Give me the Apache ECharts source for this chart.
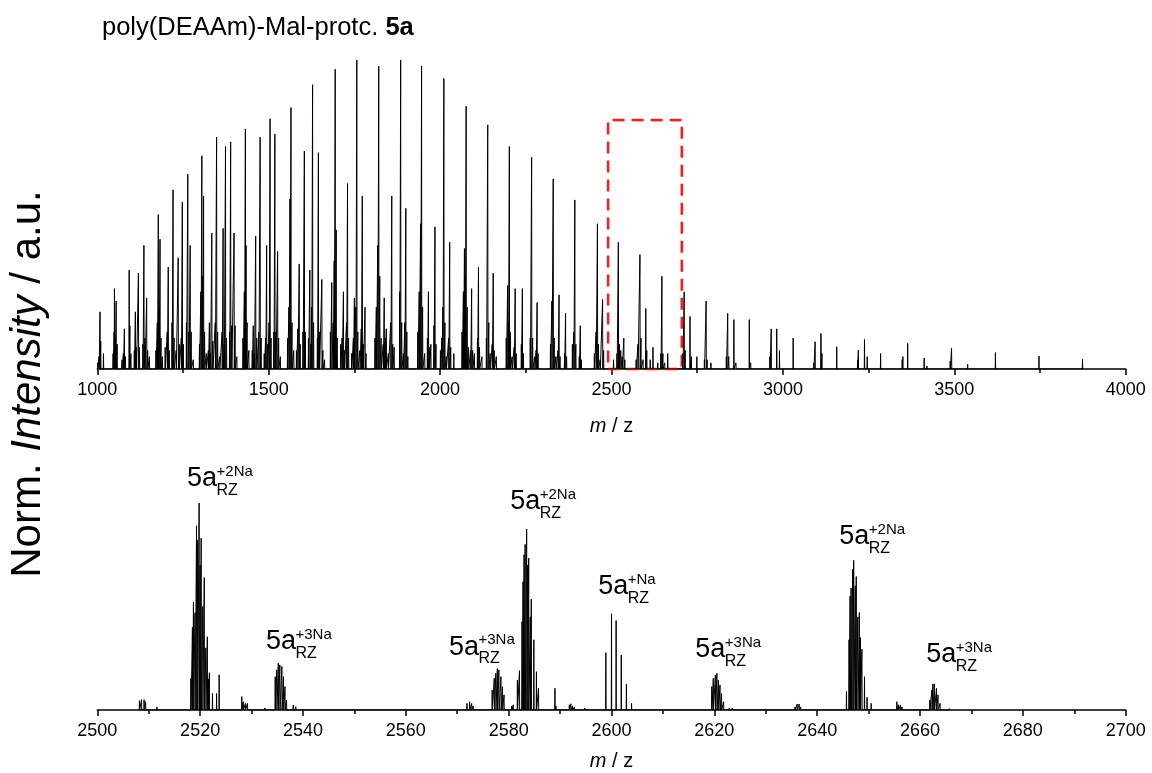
<!DOCTYPE html>
<html><head><meta charset="utf-8">
<script src="https://cdn.jsdelivr.net/npm/echarts@6/dist/echarts.min.js"></script>
<style>html,body{margin:0;padding:0;background:#fff}#c{width:1152px;height:773px}</style>
</head><body><div id="c"></div><script>
// ---- overview spectrum (m/z 1000-4000): peak positions and normalised intensities
const topMz = [
1001,1005,1008,1010,1018,1046,1049,1050,1052,1055,1058,
1072,1076,1079,1082,1093,1095,1098,1108,1111,1114,1120,1123,1133,1136,1139,1144,1147,1152,
1171,1175,1178,1180,1183,1186,1190,1198,1204,1207,1210,1218,1221,1224,1230,1236,1239,1245,1248,1251,1260,1264,1267,1271,1274,1280,
1298,1302,1305,1307,1310,1313,1318,1324,1327,1330,1334,1337,1344,1348,1351,1357,1364,1367,1370,1374,1377,1386,1389,1392,1399,1402,1407,
1425,1429,1432,1434,1437,1442,1452,1455,1458,1462,1465,1471,1475,1478,1487,1491,1494,1497,1501,1504,1507,1515,1518,1521,1526,1529,1534,
1555,1559,1562,1565,1568,1573,1581,1585,1589,1592,1600,1604,1607,1616,1620,1623,1625,1628,1631,1642,1645,1648,1655,1658,1663,
1680,1684,1688,1691,1694,1697,1700,1710,1714,1718,1721,1727,1730,1733,1742,1747,1750,1754,1757,1760,1766,1770,1773,1776,1781,1784,
1810,1814,1818,1821,1824,1828,1834,1837,1840,1843,1849,1856,1859,1862,1866,1882,1885,1888,1893,1897,1900,1903,1906,
1935,1939,1943,1946,1949,1955,1963,1966,1969,1973,1982,1985,1988,
2001,2005,2008,2011,2014,2018,2025,2028,2031,2040,
2064,2068,2071,2073,2076,2079,2083,2089,2092,2095,2100,2109,2112,2115,2122,
2135,2139,2142,2146,2152,2155,2158,2164,
2193,2197,2199,2202,2205,2210,2216,2219,2222,2237,2240,2243,
2263,2267,2270,2276,2280,2283,2286,
2322,2326,2330,2333,2338,2344,2347,2350,2363,2366,2369,
2386,2390,2393,2396,2406,2409,2412,
2450,2455,2459,2462,2467,2474,2477,
2506,2516,2520,2523,2527,2531,2536,2539,
2572,2577,2583,2586,2592,2600,2603,2613,2621,2635,2644,2647,2650,2655,2664,
2708,2712,2715,2729,2733,2749,2771,2776,2779,2790,
2835,2839,2842,2857,2863,2902,2906,2962,2966,2982,2990,3030,
3090,3094,3111,3114,3157,3218,3220,3238,3246,3285,3348,3350,3364,3412,3420,3488,3492,3539,3620,3700,3747,3874
];
const topInt = [
0.02,0.04,0.185,0.09,0.05,0.05,0.12,0.26,0.10,0.22,0.08,
0.03,0.05,0.13,0.04,0.32,0.14,0.05,0.06,0.185,0.07,0.31,0.07,0.08,0.40,0.10,0.23,0.06,0.04,
0.06,0.15,0.50,0.20,0.42,0.10,0.04,0.07,0.12,0.33,0.06,0.15,0.58,0.10,0.06,0.36,0.08,0.10,0.54,0.08,0.15,0.63,0.12,0.40,0.12,0.03,
0.08,0.25,0.69,0.30,0.56,0.12,0.05,0.06,0.15,0.05,0.44,0.09,0.15,0.75,0.12,0.04,0.12,0.455,0.08,0.72,0.10,0.12,0.735,0.14,0.44,0.14,0.04,
0.10,0.25,0.777,0.40,0.15,0.06,0.06,0.14,0.05,0.43,0.10,0.12,0.75,0.10,0.05,0.10,0.40,0.08,0.15,0.81,0.10,0.12,0.76,0.12,0.38,0.10,0.04,
0.10,0.20,0.55,0.846,0.15,0.06,0.06,0.13,0.34,0.08,0.12,0.705,0.12,0.10,0.32,0.08,0.20,0.92,0.15,0.10,0.70,0.12,0.29,0.06,0.03,
0.12,0.28,0.15,0.35,0.97,0.45,0.10,0.08,0.10,0.25,0.06,0.15,0.60,0.10,0.05,0.10,0.23,0.20,1.00,0.12,0.06,0.13,0.56,0.08,0.20,0.05,
0.10,0.20,0.40,0.98,0.30,0.10,0.08,0.23,0.10,0.13,0.05,0.15,0.56,0.08,0.07,0.25,1.00,0.15,0.05,0.15,0.52,0.12,0.04,
0.12,0.25,0.47,0.98,0.20,0.05,0.10,0.25,0.07,0.08,0.14,0.46,0.08,
0.06,0.10,0.20,0.94,0.15,0.04,0.10,0.41,0.07,0.05,
0.12,0.25,0.39,0.30,0.85,0.20,0.07,0.06,0.26,0.06,0.05,0.10,0.33,0.07,0.04,
0.10,0.79,0.15,0.05,0.08,0.31,0.06,0.04,
0.10,0.27,0.15,0.72,0.12,0.04,0.07,0.26,0.05,0.08,0.26,0.05,
0.10,0.685,0.10,0.04,0.06,0.215,0.05,
0.08,0.22,0.615,0.10,0.04,0.06,0.24,0.04,0.05,0.18,0.04,
0.08,0.12,0.547,0.08,0.04,0.14,0.03,
0.05,0.12,0.47,0.08,0.03,0.225,0.06,
0.03,0.05,0.41,0.08,0.06,0.04,0.10,0.03,
0.03,0.08,0.37,0.10,0.03,0.196,0.06,0.03,0.07,0.02,0.05,0.30,0.05,0.02,0.05,
0.05,0.25,0.06,0.17,0.04,0.04,0.03,0.22,0.03,0.02,
0.04,0.18,0.04,0.16,0.02,0.16,0.02,0.04,0.13,0.13,0.06,0.10,
0.02,0.088,0.115,0.05,0.072,0.03,0.061,0.096,0.04,0.05,0.03,0.04,0.083,0.035,0.01,0.025,0.067,0.015,0.053,0.004,0.042,0.031
];

// ---- zoomed spectrum (m/z 2500-2700)
const zoomMz = [
2508.2,2508.6,2509.1,2509.4,2511.6,
2518.2,2518.5,2518.7,2519.0,2519.3,2519.5,2519.8,2520.0,2520.2,2520.5,2520.8,2521.1,2521.4,2521.6,2521.8,2522.4,2523.2,2523.7,
2528.1,2528.4,2528.8,2529.2,2532.6,
2534.6,2534.9,2535.2,2535.5,2535.9,2536.2,2536.5,2536.8,2538.1,2538.6,2542.5,
2571.9,2572.4,2572.8,2573.1,
2576.8,2577.2,2577.5,2577.8,2578.1,2578.5,2578.8,2579.1,2580.6,2580.9,
2581.7,2582.1,2582.6,2582.8,2583.0,2583.2,2583.5,2583.7,2583.9,2584.2,2584.4,2584.9,2585.4,2585.8,
2589.0,2589.2,2591.8,2592.1,2592.4,2592.8,2594.8,
2598.9,2600.0,2600.9,2601.9,2602.9,2603.9,2609.0,
2619.5,2619.8,2620.2,2620.5,2620.8,2621.1,2621.4,2621.8,2622.9,2623.5,
2635.7,2636.1,2636.5,2636.8,
2645.7,2646.2,2646.4,2646.6,2646.9,2647.1,2647.4,2647.6,2647.9,2648.2,2648.4,2648.7,2649.2,2649.7,2650.5,2653.0,
2655.5,2655.8,2656.2,2656.5,
2661.9,2662.3,2662.5,2662.8,2663.2,2663.5,2663.9,2665.7
];
const zoomInt = [
0.045,0.05,0.05,0.04,0.015,
0.153,0.40,0.52,0.47,0.89,0.82,1.0,0.70,0.83,0.50,0.64,0.30,0.354,0.15,0.18,0.08,0.08,0.17,
0.065,0.04,0.032,0.032,0.01,
0.161,0.194,0.226,0.218,0.21,0.161,0.113,0.048,0.024,0.016,0.008,
0.032,0.04,0.032,0.02,
0.097,0.153,0.177,0.2,0.194,0.161,0.113,0.073,0.02,0.025,
0.145,0.19,0.427,0.62,0.75,0.80,0.874,0.70,0.734,0.45,0.535,0.339,0.185,0.105,
0.105,0.02,0.025,0.03,0.02,0.015,0.01,
0.277,0.465,0.432,0.266,0.126,0.032,0.008,
0.113,0.153,0.169,0.177,0.145,0.121,0.08,0.04,0.01,0.01,
0.015,0.029,0.029,0.015,
0.089,0.339,0.55,0.589,0.68,0.723,0.60,0.645,0.45,0.471,0.35,0.294,0.161,0.061,0.032,0.008,
0.04,0.025,0.025,0.015,
0.048,0.097,0.126,0.126,0.105,0.073,0.032,0.008
];

// annotations in the zoomed panel: anchor (m/z, intensity) of the "5a" label, superscript ion
const annMz  = [2517.45, 2532.8, 2568.4, 2580.3, 2597.4, 2616.3, 2644.3, 2661.2];
const annInt = [1.116, 0.330, 0.304, 1.005, 0.594, 0.290, 0.836, 0.266];
const annSup = ['+2Na','+3Na','+3Na','+2Na','+Na','+3Na','+2Na','+3Na'];

const zoomRange = [2490, 2705];   // red dashed box in the overview
const zoomBoxTop = 0.806;

const FONT = "'Liberation Sans', Arial, Helvetica, sans-serif";

function sticks(mz, it, hw) {
  const idx = mz.map((m, i) => i).sort((a, b) => mz[a] - mz[b]);
  const pts = [];
  idx.forEach(i => {
    pts.push([mz[i] - hw, 0]);
    pts.push([mz[i], it[i]]);
    pts.push([mz[i] + hw, 0]);
  });
  return pts;
}

const chart = echarts.init(document.getElementById('c'), null, {renderer: 'canvas'});

function xAx(grid, min, max, interval, gap) {
  return {
    type: 'value', gridIndex: grid, min: min, max: max, interval: interval,
    axisLine: {show: true, lineStyle: {color: '#000', width: 1.5}},
    axisTick: {show: true, length: 6, lineStyle: {color: '#000', width: 1.5}},
    minorTick: {show: true, splitNumber: 2, length: 4, lineStyle: {color: '#000', width: 1.5}},
    splitLine: {show: false},
    axisLabel: {fontSize: 18, color: '#000', fontFamily: FONT, margin: 12, formatter: v => String(v)},
    name: '{i|m} / z', nameLocation: 'middle', nameGap: gap,
    nameTextStyle: {fontSize: 20, color: '#000', fontFamily: FONT,
      rich: {i: {fontSize: 20, fontStyle: 'italic', color: '#000', fontFamily: FONT}}}
  };
}

const option = {
  animation: false,
  backgroundColor: '#fff',
  title: {
    text: '{n|poly(DEAAm)-Mal-protc. }{b|5a}', left: 97, top: 10,
    textStyle: {fontWeight: 'normal', rich: {
      n: {fontSize: 25.5, fontWeight: 'normal', color: '#000', fontFamily: FONT},
      b: {fontSize: 25.5, fontWeight: 'bold', color: '#000', fontFamily: FONT}
    }}
  },
  grid: [
    {left: 97.3, right: 26.3, top: 44.5, bottom: 404},
    {left: 97.3, right: 26.3, top: 461.6, bottom: 63}
  ],
  xAxis: [xAx(0, 1000, 4000, 500, 47), xAx(1, 2500, 2700, 20, 41)],
  yAxis: [
    {type: 'value', gridIndex: 0, min: 0, max: 1.05, show: false},
    {type: 'value', gridIndex: 1, min: 0, max: 1.2, show: false}
  ],
  series: [
    {
      type: 'line', xAxisIndex: 0, yAxisIndex: 0, data: sticks(topMz, topInt, 0.6),
      showSymbol: false, symbol: 'none', lineStyle: {color: '#000', width: 1}, silent: true,
      markArea: {
        silent: true,
        itemStyle: {color: 'rgba(0,0,0,0)', borderColor: '#ff1a1a', borderWidth: 2.5, borderType: [12, 7]},
        data: [[{xAxis: zoomRange[0], yAxis: -0.004}, {xAxis: zoomRange[1], yAxis: zoomBoxTop}]]
      }
    },
    {
      type: 'line', xAxisIndex: 1, yAxisIndex: 1, data: sticks(zoomMz, zoomInt, 0.04),
      showSymbol: false, symbol: 'none', lineStyle: {color: '#000', width: 1}, silent: true
    }
  ]
};
chart.setOption(option);

const graphics = [{
  type: 'text', x: 28, y: 384, rotation: Math.PI / 2,
  style: {
    text: '{n|Norm. }{i|Intensity}{n| / a.u.}', align: 'center', verticalAlign: 'middle',
    rich: {
      n: {fontSize: 42, fill: '#000', fontFamily: FONT},
      i: {fontSize: 42, fill: '#000', fontStyle: 'italic', fontFamily: FONT}
    }
  }
}];
annMz.forEach((m, k) => {
  const p = chart.convertToPixel({xAxisIndex: 1, yAxisIndex: 1}, [m, annInt[k]]);
  graphics.push({type: 'text', x: p[0], y: p[1],
    style: {text: '5a', fontSize: 27, fontFamily: FONT, fill: '#000', align: 'left', verticalAlign: 'middle'}});
  graphics.push({type: 'text', x: p[0] + 29.5, y: p[1] - 7,
    style: {text: annSup[k], fontSize: 15, fontFamily: FONT, fill: '#000', align: 'left', verticalAlign: 'middle'}});
  graphics.push({type: 'text', x: p[0] + 29.5, y: p[1] + 12,
    style: {text: 'RZ', fontSize: 16, fontFamily: FONT, fill: '#000', align: 'left', verticalAlign: 'middle'}});
});
chart.setOption({graphic: graphics});
</script></body></html>
